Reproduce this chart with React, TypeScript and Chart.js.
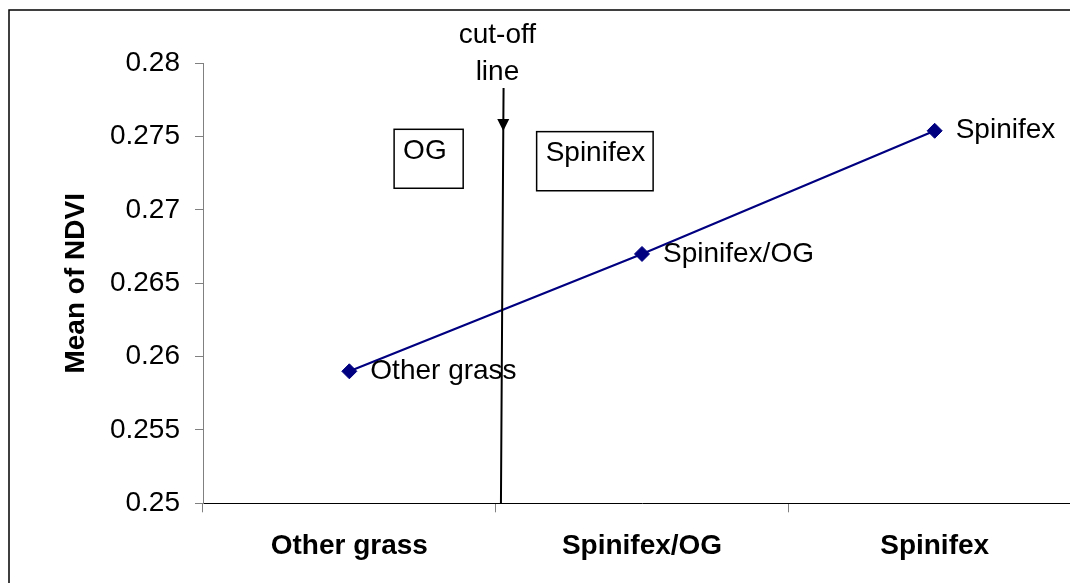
import { useEffect, useRef } from "react";
import { Chart, registerables } from "chart.js";

Chart.register(...registerables);

// Mean NDVI per vegetation class
const categories = ["Other grass", "Spinifex/OG", "Spinifex"];
const meanNdvi = [0.259, 0.267, 0.2754];
const pointLabels = ["Other grass", "Spinifex/OG", "Spinifex"];
const yMin = 0.25;
const yMax = 0.28;
const yStep = 0.005;

// Annotation geometry, in data units (category index, NDVI)
const cutoffTop = { x: 0.527, y: 0.27831 };
const cutoffTip = { x: 0.526, y: 0.27538 };
const cutoffBottom = { x: 0.518, y: 0.25 };
const cutoffCaption = ["cut-off", "line"];
const cutoffCaptionPos = [
  { x: 0.506, y: 0.28193 },
  { x: 0.506, y: 0.27941 },
];
const regionBoxes = [
  { text: "OG", x0: 0.153, x1: 0.389, y0: 0.2755, y1: 0.27148 },
  { text: "Spinifex", x0: 0.64, x1: 1.038, y0: 0.27534, y1: 0.27131 },
];

const FONT = '"Liberation Sans", Arial, Helvetica, sans-serif';
const NAVY = "#000080";

const annotationPlugin = {
  id: "ndviAnnotations",
  beforeDraw(chart: any) {
    const { ctx } = chart;
    ctx.save();
    ctx.fillStyle = "#ffffff";
    ctx.fillRect(0, 0, chart.width, chart.height);
    // outer frame
    ctx.strokeStyle = "#000000";
    ctx.lineWidth = 1.5;
    ctx.strokeRect(9, 10, chart.width + 50, chart.height + 50);
    ctx.restore();
  },
  afterDatasetsDraw(chart: any) {
    const { ctx } = chart;
    const xs = chart.scales.x;
    const ys = chart.scales.y;
    const px = (v: number) => xs.getPixelForValue(v);
    const py = (v: number) => ys.getPixelForValue(v);

    ctx.save();
    ctx.font = `28px ${FONT}`;
    ctx.fillStyle = "#000000";

    // point labels to the right of each marker
    const meta = chart.getDatasetMeta(0);
    ctx.textAlign = "left";
    ctx.textBaseline = "middle";
    meta.data.forEach((pt: any, i: number) => {
      ctx.fillText(pointLabels[i], pt.x + 21, pt.y);
    });

    // class boxes
    ctx.lineWidth = 1.5;
    ctx.strokeStyle = "#000000";
    regionBoxes.forEach((b) => {
      const x0 = px(b.x0);
      const x1 = px(b.x1);
      const y0 = py(b.y0);
      const y1 = py(b.y1);
      ctx.fillStyle = "#ffffff";
      ctx.fillRect(x0, y0, x1 - x0, y1 - y0);
      ctx.strokeRect(x0, y0, x1 - x0, y1 - y0);
      ctx.fillStyle = "#000000";
      ctx.fillText(b.text, x0 + 9, y0 + 22);
    });

    // cut-off caption
    ctx.textAlign = "center";
    cutoffCaption.forEach((t, i) => {
      ctx.fillText(t, px(cutoffCaptionPos[i].x), py(cutoffCaptionPos[i].y));
    });

    // cut-off line with arrow head
    const tx = px(cutoffTop.x);
    const ty = py(cutoffTop.y);
    const hx = px(cutoffTip.x);
    const hy = py(cutoffTip.y);
    const bx = px(cutoffBottom.x);
    const by = py(cutoffBottom.y);
    ctx.strokeStyle = "#000000";
    ctx.lineWidth = 2;
    ctx.beginPath();
    ctx.moveTo(tx, ty);
    ctx.lineTo(hx, hy);
    ctx.lineTo(bx, by);
    ctx.stroke();
    ctx.beginPath();
    ctx.moveTo(hx, hy);
    ctx.lineTo(hx - 6, hy - 12);
    ctx.lineTo(hx + 6, hy - 12);
    ctx.closePath();
    ctx.fillStyle = "#000000";
    ctx.fill();
    ctx.restore();
  },
};

export default function App() {
  const ref = useRef<HTMLCanvasElement | null>(null);

  useEffect(() => {
    if (!ref.current) return;
    const chart = new Chart(ref.current, {
      type: "line",
      data: {
        labels: categories,
        datasets: [
          {
            data: meanNdvi,
            borderColor: NAVY,
            backgroundColor: NAVY,
            borderWidth: 2.2,
            pointStyle: "rectRot",
            pointRadius: 7.5,
            pointBorderWidth: 1,
            pointBackgroundColor: NAVY,
            pointBorderColor: NAVY,
            tension: 0,
          },
        ],
      },
      options: {
        animation: false,
        responsive: false,
        devicePixelRatio: 1,
        layout: { padding: { top: 63.3, right: 19, bottom: 0, left: 0 } },
        plugins: {
          legend: { display: false },
          tooltip: { enabled: false },
        },
        scales: {
          x: {
            offset: true,
            grid: {
              offset: true,
              drawOnChartArea: false,
              tickLength: 9,
              color: "#808080",
            },
            border: { color: "#000000", width: 1 },
            ticks: {
              color: "#000000",
              padding: 17,
              maxRotation: 0,
              font: { family: FONT, size: 28, weight: "bold" },
            },
            afterFit: (s: any) => {
              s.height = 96.7;
            },
          },
          y: {
            min: yMin,
            max: yMax,
            grid: {
              drawOnChartArea: false,
              tickLength: 8,
              color: "#808080",
            },
            border: { color: "#808080", width: 1 },
            ticks: {
              stepSize: yStep,
              color: "#000000",
              padding: 15,
              font: { family: FONT, size: 28 },
              callback: (v: any) => String(parseFloat(Number(v).toFixed(3))),
            },
            title: {
              display: true,
              text: "Mean of NDVI",
              color: "#000000",
              padding: { top: 59.7, bottom: 0 },
              font: { family: FONT, size: 28, weight: "bold", lineHeight: 1.2 },
            },
            afterFit: (s: any) => {
              s.width = 203;
            },
          },
        },
      },
      plugins: [annotationPlugin],
    });
    return () => chart.destroy();
  }, []);

  return (
    <div
      style={{
        position: "fixed",
        left: 0,
        top: 0,
        width: 1070,
        height: 583,
        overflow: "hidden",
        background: "#ffffff",
      }}
    >
      <canvas
        ref={ref}
        width={1100}
        height={600}
        style={{ display: "block", width: 1100, height: 600 }}
      />
    </div>
  );
}
